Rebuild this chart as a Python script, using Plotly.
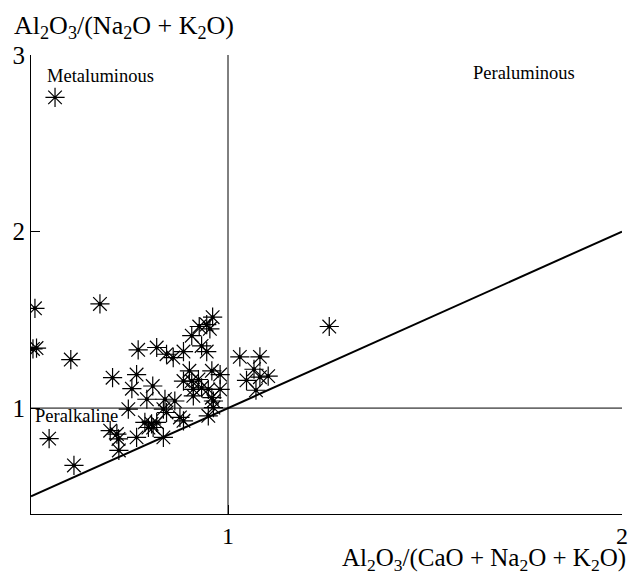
import plotly.graph_objects as go

# Data (x = Al2O3/(CaO+Na2O+K2O), y = Al2O3/(Na2O+K2O))
x_vals = [0.561, 0.510, 0.675, 0.505, 0.514, 0.601, 0.707, 0.772, 0.819, 0.844,
          0.861, 0.887, 0.908, 0.927, 0.946, 0.954, 0.961, 0.933, 0.946, 0.768,
          0.756, 0.809, 0.794, 0.747, 0.840, 0.865, 0.902, 0.959, 0.980, 0.887,
          0.908, 0.925, 0.912, 0.933, 0.950, 0.980, 0.912, 0.959, 0.963, 0.963,
          0.836, 0.844, 0.806, 0.789, 0.819, 0.798, 0.810, 0.878, 0.887, 0.950,
          0.701, 0.718, 0.722, 0.768, 0.836, 0.723, 0.546, 0.609, 1.030, 1.081,
          1.066, 1.047, 1.081, 1.102, 1.071, 1.257]
y_vals = [2.760, 1.565, 1.590, 1.335, 1.340, 1.275, 1.172, 1.330, 1.343, 1.305,
          1.286, 1.320, 1.410, 1.462, 1.473, 1.449, 1.515, 1.352, 1.320, 1.190,
          1.110, 1.125, 1.050, 0.994, 1.050, 1.040, 1.211, 1.211, 1.190, 1.153,
          1.153, 1.162, 1.106, 1.115, 1.106, 1.106, 1.069, 1.059, 1.040, 1.003,
          0.994, 0.975, 0.910, 0.919, 0.919, 0.890, 0.890, 0.947, 0.928, 0.956,
          0.872, 0.853, 0.825, 0.834, 0.834, 0.760, 0.827, 0.675, 1.290, 1.290,
          1.220, 1.157, 1.175, 1.181, 1.101, 1.462]

x_range = [0.5, 2.0]
y_range = [0.4, 3.0]
x_ticks = [1, 2]
y_ticks = [1, 2, 3]

FONT = "Liberation Serif, Times New Roman, serif"

fig = go.Figure()

# Divider lines
fig.add_trace(go.Scatter(x=[1, 1], y=y_range, mode="lines",
                         line=dict(color="black", width=1), hoverinfo="skip", showlegend=False))
fig.add_trace(go.Scatter(x=x_range, y=[1, 1], mode="lines",
                         line=dict(color="black", width=1), hoverinfo="skip", showlegend=False))
fig.add_trace(go.Scatter(x=x_range, y=x_range, mode="lines",
                         line=dict(color="black", width=2), hoverinfo="skip", showlegend=False))

# Points
fig.add_trace(go.Scatter(x=x_vals, y=y_vals, mode="markers",
                         marker=dict(symbol="asterisk-open", size=16, color="black",
                                     line=dict(color="black", width=1.2)),
                         showlegend=False))
fig.add_trace(go.Scatter(x=x_vals[1:], y=y_vals[1:], mode="markers",
                         marker=dict(symbol="circle", size=4, color="black"),
                         showlegend=False))

fig.update_layout(
    width=630, height=573,
    margin=dict(l=31, r=8, t=55, b=59, autoexpand=False),
    paper_bgcolor="white", plot_bgcolor="white",
    font=dict(family=FONT, color="black"),
    showlegend=False,
    xaxis=dict(range=x_range, tickvals=x_ticks, ticks="inside", ticklen=9,
               tickcolor="black", showline=True, linecolor="black", linewidth=1.2,
               showgrid=False, zeroline=False,
               tickfont=dict(size=24, family=FONT)),
    yaxis=dict(range=y_range, tickvals=y_ticks, ticks="inside", ticklen=9,
               tickcolor="black", showline=True, linecolor="black", linewidth=1.2,
               showgrid=False, zeroline=False, tickfont=dict(size=25, family=FONT)),
    annotations=[
        dict(text="Al<sub>2</sub>O<sub>3</sub>/(Na<sub>2</sub>O + K<sub>2</sub>O)",
             xref="paper", yref="paper", x=-0.032, y=1.0, yshift=28,
             xanchor="left", yanchor="middle", showarrow=False,
             font=dict(size=26, family=FONT)),
        dict(text="Al<sub>2</sub>O<sub>3</sub>/(CaO + Na<sub>2</sub>O + K<sub>2</sub>O)",
             xref="paper", yref="paper", x=1.0, y=0, xshift=6, yshift=-45,
             xanchor="right", yanchor="middle", showarrow=False,
             font=dict(size=25, family=FONT)),
        dict(text="Metaluminous", x=0.536, y=2.88, xanchor="left", yanchor="middle",
             showarrow=False, font=dict(size=18.5, family=FONT)),
        dict(text="Peraluminous", x=1.751, y=2.9, xanchor="center", yanchor="middle",
             showarrow=False, font=dict(size=18.5, family=FONT)),
        dict(text="Peralkaline", x=0.505, y=0.955, xanchor="left", yanchor="middle",
             showarrow=False, font=dict(size=18.5, family=FONT)),
    ],
)

fig.write_html("out.html", config={"displayModeBar": False},
               post_script="document.body.style.margin='0';")
